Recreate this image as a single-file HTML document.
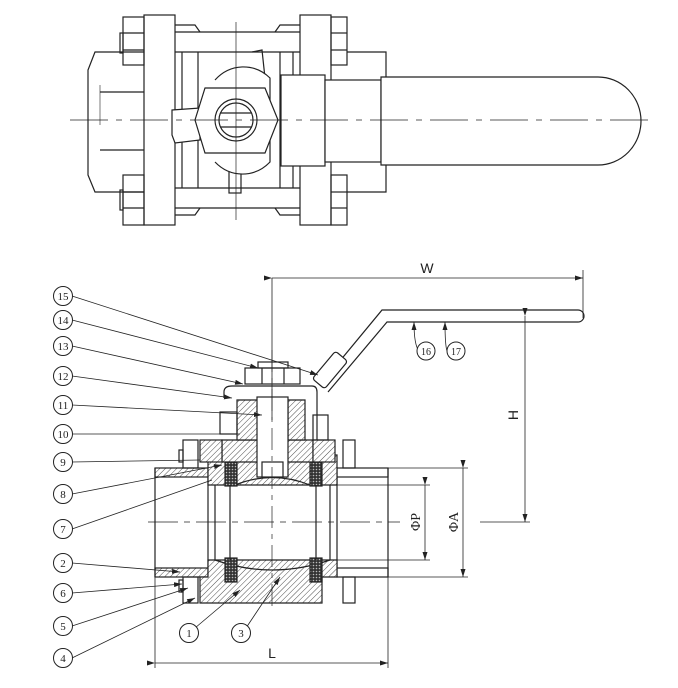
<!DOCTYPE html>
<html><head><meta charset="utf-8"><style>
html,body{margin:0;padding:0;background:#fff;width:678px;height:688px;overflow:hidden}
svg{display:block}
text{font-family:"Liberation Serif",serif;fill:#222}
</style></head><body>
<svg width="678" height="688" viewBox="0 0 678 688" xmlns="http://www.w3.org/2000/svg">
<defs>
<pattern id="h" width="4" height="4" patternUnits="userSpaceOnUse" patternTransform="rotate(45)">
<rect width="4" height="4" fill="#fff"/><line x1="0" y1="0" x2="0" y2="4" stroke="#222" stroke-width="0.8"/></pattern>
<pattern id="d" width="3" height="3" patternUnits="userSpaceOnUse"><rect width="3" height="3" fill="#333"/><circle cx="1.5" cy="1.5" r="0.8" fill="#bbb"/></pattern>
<marker id="a" markerWidth="8" markerHeight="5" refX="8" refY="2.5" orient="auto" markerUnits="userSpaceOnUse"><path d="M0,0 L8,2.5 L0,5 z" fill="#222"/></marker>
</defs>
<g fill="none" stroke="#222" stroke-width="1.2">
<!-- TOP VIEW -->
<path d="M95,52 H145 V192 H95 L88,175 V70 Z"/>
<line x1="100" y1="92" x2="145" y2="92"/><line x1="100" y1="150" x2="145" y2="150"/>
<line x1="100" y1="85" x2="100" y2="125" stroke-width="0.6"/>
<rect x="144" y="15" width="31" height="210" fill="#fff"/>
<rect x="123" y="17" width="21" height="48"/><line x1="123" y1="33" x2="144" y2="33"/><line x1="123" y1="50" x2="144" y2="50"/>
<rect x="123" y="175" width="21" height="50"/><line x1="123" y1="192" x2="144" y2="192"/><line x1="123" y1="208" x2="144" y2="208"/>
<rect x="120" y="33" width="3" height="20"/><rect x="120" y="190" width="3" height="20"/>
<line x1="175" y1="32" x2="300" y2="32"/><line x1="175" y1="52" x2="300" y2="52"/>
<line x1="175" y1="188" x2="300" y2="188"/><line x1="175" y1="208" x2="300" y2="208"/>
<line x1="182" y1="52" x2="182" y2="188"/><line x1="198" y1="52" x2="198" y2="188"/>
<line x1="280" y1="52" x2="280" y2="188"/><line x1="293" y1="52" x2="293" y2="188"/>
<path d="M175,25 H195 L200,32"/><path d="M300,25 H280 L275,32"/>
<path d="M175,215 H195 L200,208"/><path d="M300,215 H280 L275,208"/>
<rect x="300" y="15" width="31" height="210" fill="#fff"/>
<rect x="331" y="17" width="16" height="48"/><line x1="331" y1="33" x2="347" y2="33"/><line x1="331" y1="50" x2="347" y2="50"/>
<rect x="331" y="175" width="16" height="50"/><line x1="331" y1="192" x2="347" y2="192"/><line x1="331" y1="208" x2="347" y2="208"/>
<path d="M347,52 H386 V192 H347"/>
<path d="M252,52 L262,50 L265,78" />
<rect x="229" y="165" width="12" height="28"/>
<path d="M215,80 A40,44 0 0 1 270,78 L270,162 A40,44 0 0 1 215,162" fill="#fff"/>
<path d="M172,110 L200,108 L200,140 L175,143 L172,135 Z" fill="#fff"/>
<path d="M205,88 L265,88 L278,120 L265,153 L205,153 L195,120 Z" fill="#fff"/>
<circle cx="236" cy="120" r="21" fill="#fff"/><circle cx="236" cy="120" r="17"/>
<line x1="220" y1="113" x2="252" y2="113"/><line x1="220" y1="127" x2="252" y2="127"/>
<rect x="281" y="75" width="44" height="91" fill="#fff"/>
<rect x="325" y="80" width="56" height="82" fill="#fff"/>
<path d="M381,77 H598 A43,44 0 0 1 598,165 H381 Z" fill="#fff"/>
<line x1="236" y1="22" x2="236" y2="220" stroke-width="0.7"/>
<line x1="70" y1="120" x2="655" y2="120" stroke-width="0.8" stroke-dasharray="38,8,6,8"/>

<!-- SECTION VIEW -->
<rect x="155" y="468" width="53" height="9" fill="url(#h)"/>
<rect x="155" y="568" width="53" height="9" fill="url(#h)"/>
<rect x="337" y="468" width="51" height="9"/><rect x="337" y="568" width="51" height="9"/>
<line x1="155" y1="468" x2="155" y2="577"/><line x1="388" y1="468" x2="388" y2="577"/>
<line x1="208" y1="477" x2="208" y2="568"/><line x1="215" y1="477" x2="215" y2="568"/>
<line x1="330" y1="477" x2="330" y2="568"/><line x1="337" y1="477" x2="337" y2="568"/>
<path d="M208,455 H337 V485 H208 Z" fill="url(#h)"/>
<path d="M208,560 H337 V577 H322 V603 H200 V577 H208 Z" fill="url(#h)"/>
<path d="M215,560 Q272,580 330,560" />
<path d="M235,485 Q272,470 310,485"/>
<rect x="225" y="462" width="12" height="24" fill="url(#d)"/><rect x="225" y="558" width="12" height="24" fill="url(#d)"/>
<rect x="310" y="462" width="12" height="24" fill="url(#d)"/><rect x="310" y="558" width="12" height="24" fill="url(#d)"/>
<line x1="230" y1="485" x2="230" y2="560"/><line x1="316" y1="485" x2="316" y2="560"/>
<path d="M222,440 H313 V462 H222 Z" fill="url(#h)"/>
<path d="M237,400 H258 V440 H237 Z" fill="url(#h)"/><path d="M288,400 H305 V440 H288 Z" fill="url(#h)"/>
<rect x="200" y="440" width="22" height="22" fill="url(#h)"/><rect x="313" y="440" width="22" height="22" fill="url(#h)"/>
<rect x="257" y="397" width="31" height="80" fill="#fff"/>
<rect x="262" y="462" width="21" height="15" fill="#fff"/>
<rect x="220" y="412" width="17" height="22"/><rect x="313" y="415" width="15" height="25"/>
<rect x="183" y="440" width="15" height="28"/><rect x="179" y="450" width="4" height="12"/>
<rect x="183" y="577" width="15" height="26"/><rect x="179" y="580" width="4" height="12"/>
<rect x="343" y="440" width="12" height="28"/><rect x="343" y="577" width="12" height="26"/>
<path d="M224,398 V392 Q224,386 232,386 H312 Q317,386 317,392 V440"/>
<rect x="245" y="368" width="55" height="16" fill="#fff"/>
<line x1="262" y1="368" x2="262" y2="384"/><line x1="284" y1="368" x2="284" y2="384"/>
<rect x="258" y="362" width="30" height="6"/>
<path d="M320,385 L382,310 H578 A6,6 0 0 1 578,322 H387 L328,392"/>
<rect x="322" y="352" width="16" height="36" rx="3" transform="rotate(40 330 370)" fill="#fff"/>
<line x1="272" y1="350" x2="272" y2="610" stroke-width="0.7" stroke-dasharray="22,6,5,6"/>
<line x1="148" y1="522" x2="400" y2="522" stroke-width="0.7" stroke-dasharray="30,6,6,6"/>
</g>
<g stroke="#222" stroke-width="0.8" fill="none">
<line x1="272" y1="278" x2="272" y2="420"/><line x1="583" y1="270" x2="583" y2="318"/>
<line x1="272" y1="278" x2="583" y2="278" marker-start="url(#a)" marker-end="url(#a)"/>
<line x1="525" y1="316" x2="525" y2="522" marker-start="url(#a)" marker-end="url(#a)"/>
<line x1="480" y1="522" x2="530" y2="522"/>
<line x1="337" y1="485" x2="430" y2="485"/><line x1="337" y1="560" x2="430" y2="560"/>
<line x1="425" y1="485" x2="425" y2="560" marker-start="url(#a)" marker-end="url(#a)"/>
<line x1="388" y1="468" x2="468" y2="468"/><line x1="388" y1="577" x2="468" y2="577"/>
<line x1="463" y1="468" x2="463" y2="577" marker-start="url(#a)" marker-end="url(#a)"/>
<line x1="155" y1="577" x2="155" y2="668"/><line x1="388" y1="577" x2="388" y2="668"/>
<line x1="155" y1="663" x2="388" y2="663" marker-start="url(#a)" marker-end="url(#a)"/>
<line x1="72" y1="296" x2="318" y2="375" marker-end="url(#a)"/>
<line x1="72" y1="320" x2="258" y2="368" marker-end="url(#a)"/>
<line x1="72" y1="346" x2="243" y2="384" marker-end="url(#a)"/>
<line x1="72" y1="376" x2="232" y2="398" marker-end="url(#a)"/>
<line x1="72" y1="405" x2="262" y2="415" marker-end="url(#a)"/>
<line x1="72" y1="434" x2="240" y2="434"/>
<line x1="72" y1="462" x2="200" y2="460"/>
<line x1="72" y1="494" x2="222" y2="465" marker-end="url(#a)"/>
<line x1="72" y1="529" x2="212" y2="480"/>
<line x1="72" y1="563" x2="180" y2="572" marker-end="url(#a)"/>
<line x1="72" y1="593" x2="182" y2="584" marker-end="url(#a)"/>
<line x1="72" y1="626" x2="188" y2="588" marker-end="url(#a)"/>
<line x1="72" y1="658" x2="195" y2="598" marker-end="url(#a)"/>
<line x1="195" y1="628" x2="240" y2="590" marker-end="url(#a)"/>
<line x1="246" y1="628" x2="280" y2="577" marker-end="url(#a)"/>
<path d="M419,351 Q414,345 414,322" marker-end="url(#a)"/>
<path d="M447,351 Q445,345 445,322" marker-end="url(#a)"/>
</g>
<g fill="#fff" stroke="#222" stroke-width="1">
<circle cx="63" cy="296" r="9.5"/><circle cx="63" cy="320" r="9.5"/><circle cx="63" cy="346" r="9.5"/>
<circle cx="63" cy="376" r="9.5"/><circle cx="63" cy="405" r="9.5"/><circle cx="63" cy="434" r="9.5"/>
<circle cx="63" cy="462" r="9.5"/><circle cx="63" cy="494" r="9.5"/><circle cx="63" cy="529" r="9.5"/>
<circle cx="63" cy="563" r="9.5"/><circle cx="63" cy="593" r="9.5"/><circle cx="63" cy="626" r="9.5"/>
<circle cx="63" cy="658" r="9.5"/><circle cx="189" cy="633" r="9.5"/><circle cx="241" cy="633" r="9.5"/>
<circle cx="426" cy="351" r="9"/><circle cx="456" cy="351" r="9"/>
</g>
<g font-size="11" text-anchor="middle">
<text x="63" y="300">15</text><text x="63" y="324">14</text><text x="63" y="350">13</text>
<text x="63" y="380">12</text><text x="63" y="409">11</text><text x="63" y="438">10</text>
<text x="63" y="466">9</text><text x="63" y="498">8</text><text x="63" y="533">7</text>
<text x="63" y="567">2</text><text x="63" y="597">6</text><text x="63" y="630">5</text>
<text x="63" y="662">4</text><text x="189" y="637">1</text><text x="241" y="637">3</text>
<text x="426" y="355" font-size="10">16</text><text x="456" y="355" font-size="10">17</text>
</g>
<g font-size="14">
<text x="427" y="273" text-anchor="middle" style="font-family:'Liberation Sans',sans-serif">W</text>
<text x="272" y="658" text-anchor="middle" style="font-family:'Liberation Sans',sans-serif">L</text>
<text transform="translate(518,415) rotate(-90)" text-anchor="middle" style="font-family:'Liberation Sans',sans-serif">H</text>
<text transform="translate(420,522) rotate(-90)" text-anchor="middle">ΦP</text>
<text transform="translate(458,522) rotate(-90)" text-anchor="middle">ΦA</text>
</g>
</svg>
</body></html>
